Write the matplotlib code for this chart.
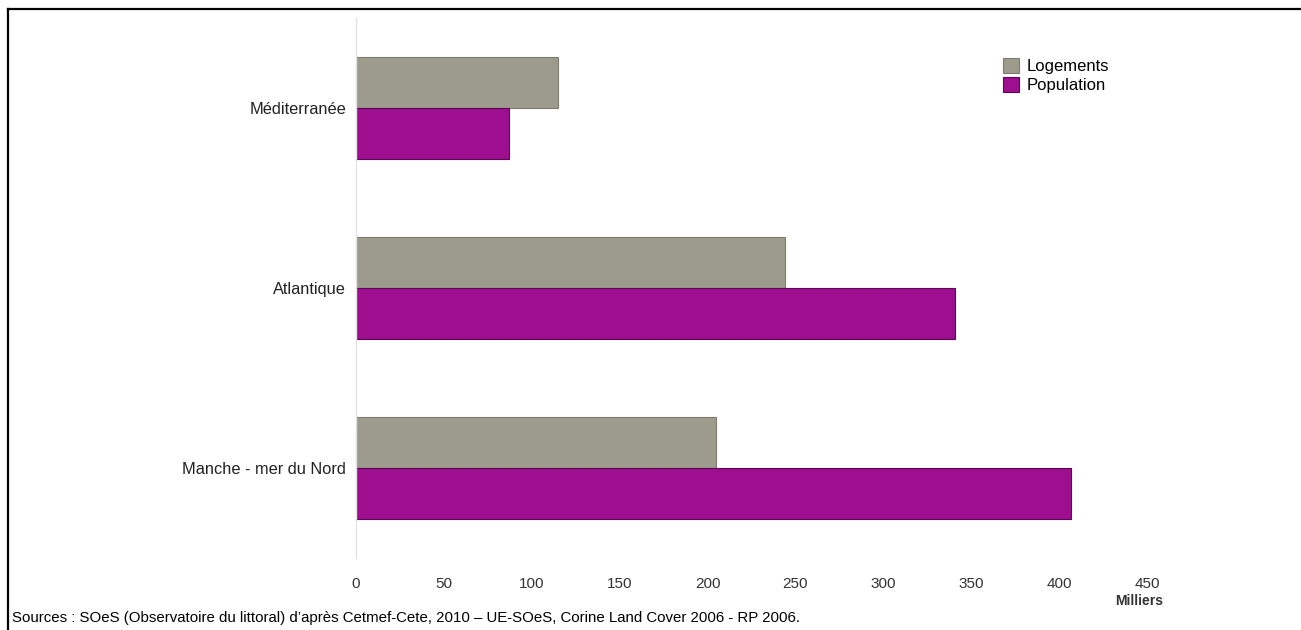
import matplotlib.pyplot as plt
from matplotlib.lines import Line2D
import numpy as np

plt.rcParams['font.family'] = ['Liberation Sans', 'DejaVu Sans']

regions = ["Manche - mer du Nord", "Atlantique", "Méditerranée"]
logements = [205, 244, 115]
population = [407, 341, 87]
ticks = [0, 50, 100, 150, 200, 250, 300, 350, 400, 450]
source = ("Sources : SOeS (Observatoire du littoral) d\u2019apr\u00e8s Cetmef-Cete, 2010 \u2013 "
          "UE-SOeS, Corine Land Cover 2006 - RP 2006.")

W, H = 1301, 630
fig = plt.figure(figsize=(W / 100, H / 100), dpi=100)
ax = fig.add_axes([356 / W, 1 - 558 / H, (1147 - 356) / W, 540 / H])

y = np.arange(len(regions))
h = 0.283
ax.barh(y + h / 2, logements, height=h, color="#9c9b8c", edgecolor="#7d7c70",
        linewidth=0.8, label="Logements")
ax.barh(y - h / 2, population, height=h, color="#9e0f8f", edgecolor="#5e0656",
        linewidth=0.8, label="Population")

ax.set_xlim(0, 450)
ax.set_ylim(-0.5, 2.5)
ax.set_yticks(y)
ax.set_yticklabels(regions, fontsize=11.8, color="#222222")
ax.set_xticks(ticks)
ax.set_xticklabels([str(t) for t in ticks], fontsize=11, color="#333333")
ax.tick_params(axis="both", length=0)
ax.tick_params(axis="x", pad=14)
ax.tick_params(axis="y", pad=7)
for s in ["top", "right", "bottom"]:
    ax.spines[s].set_visible(False)
ax.spines["left"].set_color("#e2e2e2")
ax.spines["left"].set_linewidth(1)

fig.text(1163 / W, 1 - 601 / H, "Milliers", fontsize=10, fontweight="bold",
         color="#333333", ha="right", va="center")

leg = ax.legend(loc="upper left", bbox_to_anchor=(996 / W, 1 - 51 / H),
                bbox_transform=fig.transFigure, frameon=False, fontsize=12,
                handlelength=1.0, handleheight=1.0, handletextpad=0.45,
                labelspacing=0.2, borderaxespad=0)

fig.text(12 / W, 1 - 618 / H, source, fontsize=10.8, color="#000000",
         ha="left", va="center")

# black frame along top and left edge
fig.add_artist(Line2D([8 / W, 1], [1 - 9 / H, 1 - 9 / H], color="black", lw=1.6,
                      transform=fig.transFigure))
fig.add_artist(Line2D([8 / W, 8 / W], [0, 1 - 9 / H], color="black", lw=1.6,
                      transform=fig.transFigure))

fig.savefig("out.png", dpi=100)
